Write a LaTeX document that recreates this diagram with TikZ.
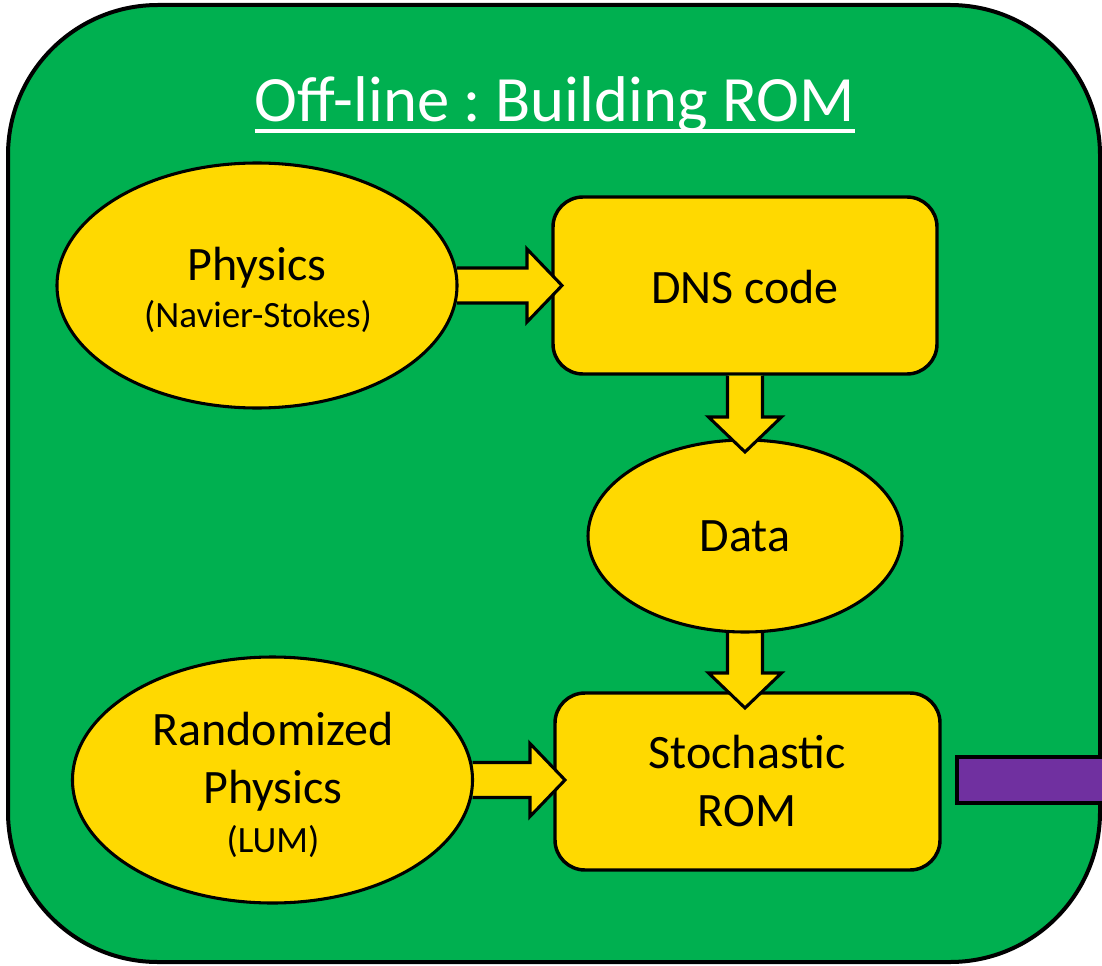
\documentclass[tikz,border=0pt]{standalone}
\usepackage{fontspec}
\setmainfont{Carlito}
\frenchspacing
\usetikzlibrary{shapes.geometric,calc}
\definecolor{grn}{HTML}{00B050}
\definecolor{yel}{RGB}{255,217,0}
\definecolor{pur}{HTML}{7030A0}
\pgfdeclarelayer{L1}\pgfdeclarelayer{L2}\pgfdeclarelayer{L3}\pgfdeclarelayer{L5}
\pgfsetlayers{L1,L2,L3,main,L5}
\tikzset{
  boxnode/.style={draw=black, fill=yel, line width=2.6pt, rounded corners=22.5pt, inner sep=0pt, outer sep=0pt},
  ellnode/.style={ellipse, draw=black, fill=yel, line width=2.3pt, inner sep=0pt, outer sep=0pt},
  bigtxt/.style={anchor=base, inner sep=0pt, font=\fontsize{36}{40}\selectfont},
  smalltxt/.style={anchor=base, inner sep=0pt, font=\fontsize{27.8}{32}\selectfont},
  arrline/.style={draw=black, line width=2.3pt, line join=miter},
}
\newcommand\harrow[2]{%
  \fill[yel] ($(#1)+(0,-17.5)$) -- ($(#2)+(-35,-17.5)$) -- ($(#2)+(-35,-36.5)$) -- (#2)
     -- ($(#2)+(-35,36.5)$) -- ($(#2)+(-35,17.5)$) -- ($(#1)+(0,17.5)$) -- cycle;
  \draw[arrline] ($(#1)+(0,-17.5)$) -- ($(#2)+(-35,-17.5)$) -- ($(#2)+(-35,-36.5)$) -- (#2)
     -- ($(#2)+(-35,36.5)$) -- ($(#2)+(-35,17.5)$) -- ($(#1)+(0,17.5)$);}
\newcommand\varrow[2]{%
  \fill[yel] ($(#1)+(-17.5,0)$) -- ($(#2)+(-17.5,-35)$) -- ($(#2)+(-36.5,-35)$) -- (#2)
     -- ($(#2)+(36.5,-35)$) -- ($(#2)+(17.5,-35)$) -- ($(#1)+(17.5,0)$) -- cycle;
  \draw[arrline] ($(#1)+(-17.5,0)$) -- ($(#2)+(-17.5,-35)$) -- ($(#2)+(-36.5,-35)$) -- (#2)
     -- ($(#2)+(36.5,-35)$) -- ($(#2)+(17.5,-35)$) -- ($(#1)+(17.5,0)$);}
\begin{document}
\begin{tikzpicture}[x=0.75pt, y=-0.75pt]
\useasboundingbox (0,0) rectangle (1102,966);
% frame
\begin{pgfonlayer}{L1}
\node[draw=black, fill=grn, line width=3pt, rounded corners=112.5pt, minimum width=819pt,
      minimum height=717.75pt, inner sep=0pt, outer sep=0pt] (frame) at (554,483.5) {};
\end{pgfonlayer}
% title
\node[anchor=base, text=white, inner sep=0pt, font=\fontsize{48.5}{52}\selectfont] (title) at (555,122) {Off-line : Building ROM};
\draw[white, line width=3pt] ($(title.base west)+(0,9)$) -- ($(title.base east)+(0,9)$);
% rectangles
\begin{pgfonlayer}{L2}
\node[boxnode, minimum width=288pt, minimum height=132.75pt] (dns) at (745,285.5) {};
\node[boxnode, minimum width=288.75pt, minimum height=132.75pt] (stoch) at (747.5,781.5) {};
\draw[draw=black, fill=pur, line width=3pt] (957,757) rectangle (1120,803);
\end{pgfonlayer}
% ellipses
\node[ellnode, minimum width=300pt, minimum height=183.75pt] (phys) at (257,285.5) {};
\node[ellnode, minimum width=300pt, minimum height=184.5pt] (rand) at (272.5,780) {};
\node[ellnode, minimum width=235.5pt, minimum height=144pt] (data) at (745,536) {};
% texts
\node[bigtxt] (physA) at (257,280) {Physics};
\node[smalltxt] (physB) at (258,327) {(Navier-Stokes)};
\node[bigtxt] (dnsT) at (745,303) {DNS code};
\node[bigtxt] (dataT) at (745,551) {Data};
\node[bigtxt] (stA) at (747,768) {Stochastic};
\node[bigtxt] (stB) at (747,826) {ROM};
\node[bigtxt] (rdA) at (273,745) {Randomized};
\node[bigtxt] (rdB) at (273,803) {Physics};
\node[smalltxt] (rdC) at (273,852) {(LUM)};
% connectors
\coordinate (a1s) at (phys.east);
\coordinate (a1t) at ($(dns.west |- phys.east)+(9,0)$);
\coordinate (a4s) at (rand.east);
\coordinate (a4t) at ($(stoch.west |- rand.east)+(10,0)$);
\coordinate (a2s) at ($(dns.south)+(0,1.5)$);
\coordinate (a2t) at ($(data.north)+(0,12)$);
\coordinate (a3s) at (data.south);
\coordinate (a3t) at ($(data.south |- stoch.north)+(0,15)$);
\begin{pgfonlayer}{L3}
\harrow{a1s}{a1t}
\harrow{a4s}{a4t}
\varrow{a3s}{a3t}
\end{pgfonlayer}
\begin{pgfonlayer}{L5}
\varrow{a2s}{a2t}
\end{pgfonlayer}
\end{tikzpicture}
\end{document}
